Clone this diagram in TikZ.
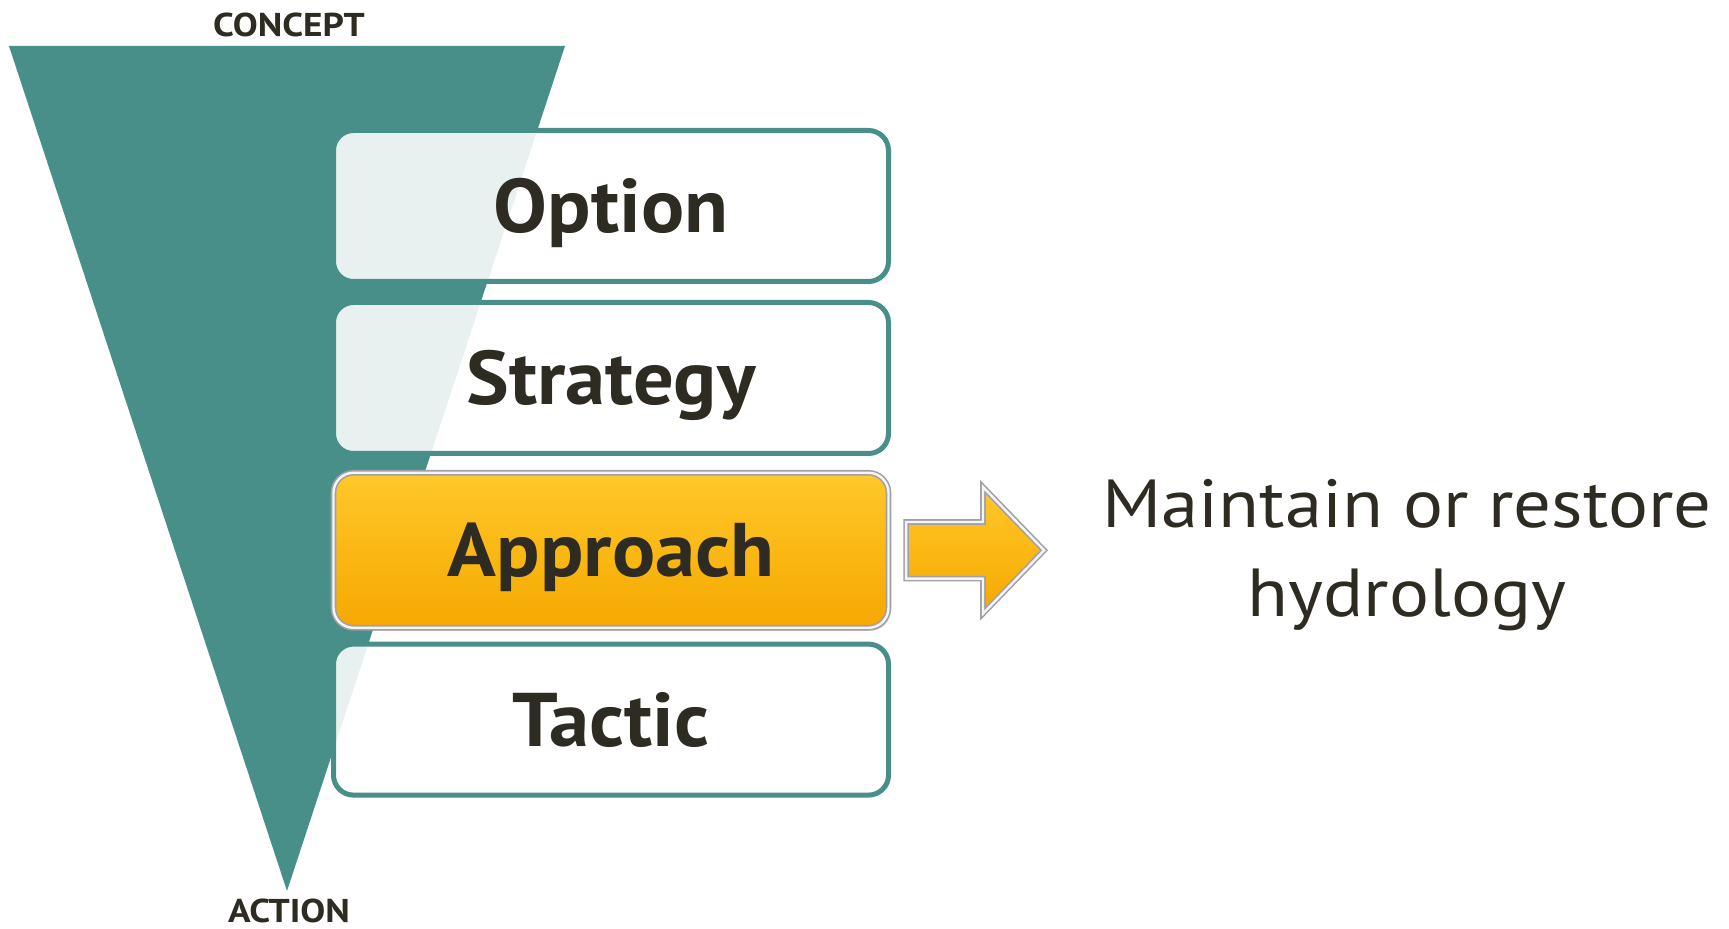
\documentclass[tikz,border=0pt]{standalone}
\usepackage{fontspec}
\setmainfont{PT Sans}
\newfontfamily\boxfont[FakeStretch=1.06]{PT Sans}
\newfontfamily\goalfont[FakeStretch=1.1]{PT Sans}
\newfontfamily\tagfont[FakeStretch=1.13]{PT Sans}
\usetikzlibrary{positioning, shapes.arrows, shadows}

\definecolor{funnel}{HTML}{488F8A}
\definecolor{ink}{HTML}{2E2B22}
\definecolor{goldtop}{HTML}{FFC82A}
\definecolor{goldbot}{HTML}{F6A800}
\definecolor{rim}{HTML}{A0A0A8}

\begin{document}
\begin{tikzpicture}[
    x=0.5pt, y=-0.5pt,
    node distance=8pt,
    tier/.style={draw=funnel, line width=2.5pt, rounded corners=10pt, fill=white,
                 fill opacity=0.88, text opacity=1, minimum width=277.5pt, minimum height=75.5pt,
                 font=\boxfont\fontsize{38}{40}\selectfont\bfseries, text=ink, text height=26.5pt, text depth=0pt},
    chosen/.style={tier, draw=rim, line width=0.8pt, double=white!92!gray, double distance=1.2pt,
                   fill opacity=1, minimum height=77.5pt, top color=goldtop, bottom color=goldbot,
                   drop shadow={shadow xshift=1pt, shadow yshift=-1.5pt, opacity=0.35, fill=gray}},
    pointer/.style={single arrow, draw=rim, line width=0.8pt, double=white!92!gray, double distance=1.2pt,
                    top color=goldtop, bottom color=goldbot,
                    minimum height=69pt, minimum width=62.5pt, single arrow head extend=17.5pt,
                    single arrow tip angle=92, inner xsep=0pt, inner ysep=13.75pt},
    tag/.style={font=\tagfont\fontsize{16.5}{18}\selectfont\bfseries, text=ink},
    outcome/.style={font=\goalfont\fontsize{34}{44.5}\selectfont, text=ink, align=center, inner sep=0pt},
]

\fill[white] (0,0) rectangle (1729,929);
\useasboundingbox (0,0) rectangle (1729,929);

% funnel from concept down to action
\fill[funnel] (9,46) -- (565,46) -- (287,891) -- cycle;
\node[tag] (concept) at (289,25) {CONCEPT};
\node[tag] (action) at (289,911) {ACTION};

\node[tier] (option) at (611,206) {Option};
\node[tier, below=of option] (strategy) {Strategy};
\node[chosen, below=of strategy] (approach) {Approach};
\node[tier, below=6.5pt of approach] (tactic) {Tactic};

\node[pointer, right=8pt of approach] (arrow) {};
\node[outcome] (goal) at (1407,555) {Maintain or restore\\hydrology};

\end{tikzpicture}
\end{document}
